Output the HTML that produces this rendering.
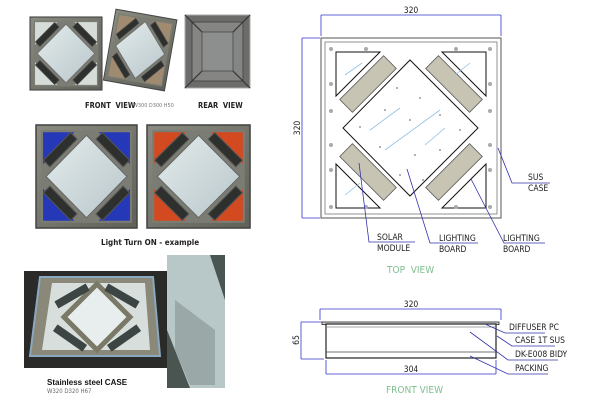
<!DOCTYPE html>
<html><head><meta charset="utf-8"><style>
html,body{margin:0;padding:0;background:#fff;}
svg{display:block}
.t{font-family:"DejaVu Sans Condensed","Liberation Sans",sans-serif;font-size:8.5px;fill:#222}
.g{font-family:"DejaVu Sans Condensed","Liberation Sans",sans-serif;font-size:10px;fill:#7fbf8f}
.b{font-family:"Liberation Sans",sans-serif;font-weight:bold;font-size:8px;fill:#111}
</style></head><body>
<svg width="600" height="400" viewBox="0 0 600 400" xmlns="http://www.w3.org/2000/svg">
<defs>
 <linearGradient id="steel" x1="0" y1="0" x2="1" y2="1"><stop offset="0" stop-color="#8a8c82"/><stop offset="1" stop-color="#5f6158"/></linearGradient>
 <linearGradient id="dif" x1="0" y1="0" x2="1" y2="1"><stop offset="0" stop-color="#e4ecec"/><stop offset="1" stop-color="#b8c6ca"/></linearGradient>
 <g id="panel">
  <rect x="0" y="0" width="100" height="100" fill="url(#steel)" stroke="#444" stroke-width="1.5"/>
  <rect x="5" y="5" width="90" height="90" fill="#7b7d74"/>
  <polygon points="7,7 38,7 7,38" fill="var(--c)"/>
  <polygon points="93,7 62,7 93,38" fill="var(--c)"/>
  <polygon points="7,93 38,93 7,62" fill="var(--c)"/>
  <polygon points="93,93 62,93 93,62" fill="var(--c)"/>
  <g fill="#2e302e" stroke="#555" stroke-width="1">
   <rect x="-19" y="-4.5" width="38" height="9" transform="translate(24,24) rotate(-45)"/>
   <rect x="-19" y="-4.5" width="38" height="9" transform="translate(76,24) rotate(45)"/>
   <rect x="-19" y="-4.5" width="38" height="9" transform="translate(24,76) rotate(45)"/>
   <rect x="-19" y="-4.5" width="38" height="9" transform="translate(76,76) rotate(-45)"/>
  </g>
  <polygon points="50,10 90,50 50,90 10,50" fill="url(#dif)" stroke="#666" stroke-width="1"/>
 </g>
</defs>

<!-- top photos -->
<g transform="translate(30,17) scale(0.72,0.73)" style="--c:#d6dcd8"><use href="#panel"/></g>
<g transform="translate(140,51) rotate(10) translate(-31,-37) scale(0.62,0.72)" style="--c:#a08a70"><use href="#panel"/></g>
<rect x="185" y="15" width="65" height="73" fill="#6c6c6a" stroke="#aaa"/>
<rect x="192" y="22" width="51" height="59" fill="#858583" stroke="#4a4a4a"/>
<rect x="202" y="32" width="31" height="39" fill="#8d8f8e" stroke="#555"/>
<g stroke="#333" stroke-width="1.2"><line x1="185" y1="15" x2="202" y2="32"/><line x1="250" y1="15" x2="233" y2="32"/><line x1="185" y1="88" x2="202" y2="71"/><line x1="250" y1="88" x2="233" y2="71"/></g>
<text class="t" x="85" y="108" style="font-weight:bold;font-size:7.5px">FRONT&#160; VIEW</text>
<text class="t" x="133" y="107" style="font-size:5.5px;fill:#777">W300 D300 H50</text>
<text class="t" x="198" y="108" style="font-weight:bold;font-size:7.5px">REAR&#160; VIEW</text>

<g transform="translate(36,125) scale(1.01,1.03)" style="--c:#2438b8"><use href="#panel"/></g>
<g transform="translate(147,125) scale(1.03,1.03)" style="--c:#d44a20"><use href="#panel"/></g>
<text class="t" x="101" y="245" style="font-weight:bold;font-size:8px">Light Turn ON - example</text>

<!-- bottom photos -->
<rect x="24" y="271" width="143" height="97" fill="#2a2a28"/>
<polygon points="40,277 153,277 160,356 30,356" fill="#8a8878" stroke="#8aa8c0" stroke-width="2"/>
<polygon points="52,283 145,283 150,350 42,350" fill="#d8dedc"/>
<polygon points="97,284 130,317 97,350 64,317" fill="#e8eeee" stroke="#7a7866" stroke-width="5"/>
<g fill="#3c4444"><rect x="-18" y="-4" width="36" height="8" transform="translate(72,296) rotate(-30)"/><rect x="-18" y="-4" width="36" height="8" transform="translate(122,296) rotate(30)"/><rect x="-18" y="-4" width="36" height="8" transform="translate(70,338) rotate(35)"/><rect x="-18" y="-4" width="36" height="8" transform="translate(124,338) rotate(-35)"/></g>
<rect x="167" y="255" width="58" height="133" fill="#4a5450"/>
<polygon points="167,255 210,255 225,300 225,388 190,388 167,330" fill="#b8c8c8"/>
<polygon points="175,300 215,330 215,385 190,385 175,350" fill="#9aa8a8"/>
<text class="b" x="47" y="385">Stainless steel CASE</text>
<text class="t" x="47" y="393" style="font-size:6px;fill:#666">W320 D320 H67</text>

<!-- top view drawing -->
<g stroke="#3333cc" stroke-width="0.8" fill="none">
 <line x1="321" y1="15" x2="501" y2="15"/><line x1="321" y1="15" x2="321" y2="36"/><line x1="501" y1="15" x2="501" y2="36"/>
 <line x1="302" y1="38" x2="302" y2="218"/><line x1="302" y1="38" x2="320" y2="38"/><line x1="302" y1="218" x2="320" y2="218"/>
</g>
<text class="t" x="411" y="13" text-anchor="middle">320</text>
<text class="t" transform="translate(300,128) rotate(-90)" text-anchor="middle">320</text>
<rect x="321" y="38" width="180" height="180" fill="#fff" stroke="#555" stroke-width="1"/>
<rect x="325" y="42" width="172" height="172" fill="#fff" stroke="#777" stroke-width="0.8"/>
<g fill="#fff" stroke="#111" stroke-width="1">
 <polygon points="336,52 380,52 336,96"/><polygon points="486,52 442,52 486,96"/>
 <polygon points="336,208 380,208 336,164"/><polygon points="486,208 442,208 486,164"/>
 <polygon points="410,60 478,128 410,196 343,128"/>
</g>
<g fill="#c8c4b4" stroke="#555" stroke-width="0.8">
 <rect x="-31" y="-9" width="62" height="18" transform="translate(368,84) rotate(-45)"/>
 <rect x="-31" y="-9" width="62" height="18" transform="translate(454,84) rotate(45)"/>
 <rect x="-31" y="-9" width="62" height="18" transform="translate(368,172) rotate(45)"/>
 <rect x="-31" y="-9" width="62" height="18" transform="translate(454,172) rotate(-45)"/>
</g>
<g fill="#aaa">
 <circle cx="331" cy="49" r="2"/><circle cx="366" cy="49" r="2"/><circle cx="456" cy="49" r="2"/><circle cx="490" cy="49" r="2"/>
 <circle cx="331" cy="84" r="2"/><circle cx="490" cy="84" r="2"/><circle cx="331" cy="111" r="2"/><circle cx="490" cy="111" r="2"/>
 <circle cx="331" cy="145" r="2"/><circle cx="490" cy="145" r="2"/><circle cx="331" cy="170" r="2"/><circle cx="490" cy="170" r="2"/>
 <circle cx="331" cy="207" r="2"/><circle cx="366" cy="207" r="2"/><circle cx="456" cy="207" r="2"/><circle cx="490" cy="207" r="2"/>
</g>
<g fill="#999">
 <circle cx="397" cy="88" r="1"/><circle cx="420" cy="98" r="1"/><circle cx="385" cy="110" r="1"/><circle cx="410" cy="120" r="1"/><circle cx="440" cy="115" r="1"/><circle cx="360" cy="127" r="1"/><circle cx="460" cy="130" r="1"/><circle cx="380" cy="147" r="1"/><circle cx="415" cy="155" r="1"/><circle cx="440" cy="150" r="1"/><circle cx="400" cy="175" r="1"/><circle cx="423" cy="180" r="1"/>
</g>
<g stroke="#8cc0e8" stroke-width="0.8"><line x1="345" y1="75" x2="362" y2="63"/><line x1="470" y1="63" x2="455" y2="75"/><line x1="385" y1="150" x2="440" y2="110"/><line x1="370" y1="130" x2="400" y2="108"/><line x1="425" y1="145" x2="445" y2="128"/><line x1="345" y1="195" x2="360" y2="183"/></g>
<g stroke="#3333aa" stroke-width="0.8" fill="none">
 <polyline points="498,148 512,183 550,183"/>
 <polyline points="359,163 369,242 415,242"/>
 <polyline points="407,169 430,243 478,243"/>
 <polyline points="471,179 504,243 545,243"/>
</g>
<text class="t" x="528" y="180">SUS</text><text class="t" x="528" y="191">CASE</text>
<text class="t" x="377" y="240">SOLAR</text><text class="t" x="377" y="251">MODULE</text>
<text class="t" x="439" y="241">LIGHTING</text><text class="t" x="439" y="252">BOARD</text>
<text class="t" x="503" y="241">LIGHTING</text><text class="t" x="503" y="252">BOARD</text>
<text class="g" x="387" y="273">TOP&#160; VIEW</text>

<!-- front view drawing -->
<g stroke="#3333cc" stroke-width="0.8" fill="none">
 <line x1="320" y1="309" x2="501" y2="309"/><line x1="320" y1="309" x2="320" y2="320"/><line x1="501" y1="309" x2="501" y2="320"/>
 <line x1="301" y1="322" x2="301" y2="359"/><line x1="301" y1="322" x2="322" y2="322"/><line x1="301" y1="359" x2="324" y2="359"/>
 <line x1="326" y1="374" x2="496" y2="374"/><line x1="326" y1="360" x2="326" y2="374"/><line x1="496" y1="360" x2="496" y2="374"/>
</g>
<text class="t" x="411" y="307" text-anchor="middle">320</text>
<text class="t" x="411" y="372" text-anchor="middle">304</text>
<text class="t" transform="translate(299,340) rotate(-90)" text-anchor="middle">65</text>
<rect x="322" y="322" width="177" height="2.5" fill="#ddd" stroke="#222" stroke-width="0.8"/>
<rect x="326" y="324" width="170" height="34" fill="#fff" stroke="#222" stroke-width="1.2"/>
<line x1="326" y1="327" x2="496" y2="327" stroke="#888" stroke-width="0.8"/>
<line x1="326" y1="352" x2="496" y2="352" stroke="#444" stroke-width="0.8"/>
<g stroke="#3333aa" stroke-width="0.8" fill="none">
 <polyline points="485,324 505,333 545,333"/>
 <polyline points="497,336 512,346 555,346"/>
 <polyline points="470,332 508,360 558,360"/>
 <polyline points="470,356 508,374 548,374"/>
</g>
<text class="t" x="509" y="330">DIFFUSER PC</text>
<text class="t" x="515" y="343">CASE 1T SUS</text>
<text class="t" x="515" y="357">DK-E008 BIDY</text>
<text class="t" x="515" y="371">PACKING</text>
<text class="g" x="386" y="393">FRONT VIEW</text>
</svg>
</body></html>
